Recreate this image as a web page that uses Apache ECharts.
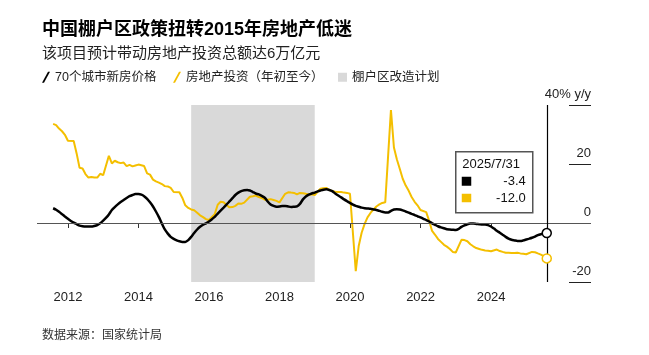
<!DOCTYPE html>
<html>
<head>
<meta charset="utf-8">
<script src="https://cdn.jsdelivr.net/npm/echarts@6/dist/echarts.min.js"></script>
<style>
html,body{margin:0;padding:0;background:#fff;}
#c{width:649px;height:355px;}
</style>
</head>
<body>
<div id="c"></div>
<script>
// ---- data (monthly, Jul 2011 – Jul 2025) ----
const startYear = 2011, startMonth = 7, endYear = 2025, endMonth = 7;
const months = [];
for (let y = startYear, m = startMonth; y < endYear || (y === endYear && m <= endMonth); ) {
  months.push(Date.UTC(y, m, 0)); // last day of month m
  m++; if (m > 12) { m = 1; y++; }
}
// 70个城市新房价格 同比 (%)
const priceYoY = [
  5.0, 4.5, 3.8, 3.0, 2.2, 1.4,
  0.7, 0.1, -0.4, -0.9, -1.1, -1.2, -1.2, -1.2, -1.0, -0.7, -0.1, 0.8,
  1.8, 2.9, 4.4, 5.4, 6.3, 7.1, 7.8, 8.5, 9.1, 9.5, 9.8, 9.8,
  9.6, 9.1, 8.2, 7.0, 5.6, 3.9, 2.0, -0.2, -2.2, -3.6, -4.7, -5.4,
  -5.9, -6.2, -6.4, -6.4, -5.8, -4.7, -3.4, -2.2, -1.3, -0.6, -0.1, 0.5,
  1.3, 2.1, 3.2, 4.2, 5.2, 6.2, 7.3, 8.4, 9.5, 10.3, 10.8, 11.1,
  11.2, 11.0, 10.5, 10.0, 9.7, 9.2, 8.6, 7.3, 6.3, 5.8, 5.5, 5.6,
  5.8, 5.8, 5.6, 5.4, 5.5, 5.6, 6.5, 8.0, 9.0, 9.6, 10.0, 10.3,
  10.7, 11.0, 11.3, 11.4, 11.2, 10.8, 10.0, 9.3, 8.7, 8.0, 7.4, 6.8,
  6.2, 5.8, 5.5, 5.2, 5.0, 4.9, 4.8, 4.6, 4.4, 4.1, 3.8, 3.6,
  3.6, 4.1, 4.6, 4.7, 4.6, 4.3, 3.9, 3.5, 3.1, 2.7, 2.3, 1.9,
  1.4, 1.0, 0.5, -0.1, -0.6, -1.1, -1.5, -1.8, -2.1, -2.2, -2.3, -2.4,
  -2.0, -1.3, -0.8, -0.4, -0.2, -0.2, -0.3, -0.4, -0.5, -0.5, -0.7, -1.2,
  -1.9, -2.6, -3.3, -4.0, -4.7, -5.3, -5.7, -5.9, -6.1, -6.1, -5.9, -5.6,
  -5.3, -5.0, -4.6, -4.1, -3.8, -3.6, -3.4
];
// 房地产投资（年初至今）同比 (%), January not published
const investYoY = [
  33.6, 33.2, 32.0, 31.1, 29.9, 27.9,
  null, 27.8, 23.5, 18.7, 18.5, 16.6, 15.4, 15.6, 15.4, 15.4, 16.7, 16.2,
  null, 22.8, 20.2, 21.1, 20.6, 20.3, 20.5, 19.3, 19.7, 19.2, 19.5, 19.8,
  null, 19.3, 16.8, 16.4, 14.7, 14.1, 13.7, 13.2, 12.5, 12.4, 11.9, 10.5,
  null, 10.4, 8.5, 6.0, 5.1, 4.6, 4.3, 3.5, 2.6, 2.0, 1.3, 1.0,
  null, 3.0, 6.2, 7.2, 7.0, 6.1, 5.3, 5.4, 5.8, 6.6, 6.5, 6.9,
  null, 8.9, 9.1, 9.3, 8.8, 8.5, 7.9, 7.9, 8.1, 7.8, 7.5, 7.0,
  null, 9.9, 10.4, 10.3, 10.2, 9.7, 10.2, 10.1, 9.9, 9.7, 9.7, 9.5,
  null, 11.6, 11.8, 11.9, 11.2, 10.9, 10.6, 10.5, 10.5, 10.3, 10.2, 9.9,
  null, -16.3, -7.7, -3.3, -0.3, 1.9, 3.4, 4.6, 5.6, 6.3, 6.8, 7.0,
  null, 38.3, 25.6, 21.6, 18.3, 15.0, 12.7, 10.9, 8.8, 7.2, 6.0, 4.4,
  null, 3.7, 0.7, -2.7, -4.0, -5.4, -6.4, -7.4, -8.0, -8.8, -9.8, -10.0,
  null, -5.7, -5.8, -6.2, -7.2, -7.9, -8.5, -8.8, -9.1, -9.3, -9.4, -9.6,
  null, -9.0, -9.5, -9.8, -10.1, -10.1, -10.2, -10.2, -10.1, -10.3, -10.4, -10.6,
  null, -9.8, -9.9, -10.3, -10.7, -11.2, -12.0
];
const shadeRange = [Date.UTC(2015, 5, 30), Date.UTC(2018, 11, 31)];
const xTickYears = [2012, 2014, 2016, 2018, 2020, 2022, 2024];
const xRange = [Date.UTC(2011, 1, 14), Date.UTC(2026, 10, 1)];

const nameA = '70个城市新房价格';
const nameB = '房地产投资（年初至今）';
const nameC = '棚户区改造计划';
const BLACK = '#000000', YELLOW = '#f4bf00', GREY = '#d9d9d9';
const FONT = '"Liberation Sans", "Noto Sans CJK SC", sans-serif';

// date -> decimal year (axis position)
function yr(ts) {
  const y = new Date(ts).getUTCFullYear();
  const s = Date.UTC(y, 0, 1), e = Date.UTC(y + 1, 0, 1);
  return y + (ts - s) / (e - s);
}

const lastT = months[months.length - 1];
const lastA = priceYoY[priceYoY.length - 1];
const lastB = investYoY[investYoY.length - 1];
const ld = new Date(lastT);
const lastLabel = ld.getUTCFullYear() + '/' + (ld.getUTCMonth() + 1) + '/' + ld.getUTCDate();

const chart = echarts.init(document.getElementById('c'), null, {renderer: 'canvas'});
const slash = 'path://M0,11 L2,11 L8,0 L6,0 Z';
const legendText = {fontSize: 12.5, color: '#222', fontFamily: FONT};

chart.setOption({
  backgroundColor: '#fff',
  animation: false,
  textStyle: {fontFamily: FONT},
  title: [
    {text: '中国棚户区政策扭转2015年房地产低迷', left: 37, top: 16,
     textStyle: {fontSize: 18, fontWeight: 'bold', color: '#000', fontFamily: FONT}},
    {text: '该项目预计带动房地产投资总额达6万亿元', left: 37, top: 41,
     textStyle: {fontSize: 15, fontWeight: 'normal', color: '#222', fontFamily: FONT}},
    {text: '数据来源：国家统计局', left: 37, top: 325,
     textStyle: {fontSize: 12, fontWeight: 'normal', color: '#333', fontFamily: FONT}}
  ],
  legend: [
    {left: 37, top: 66, data: [{name: nameA, icon: slash}], itemWidth: 8, itemHeight: 11,
     textStyle: legendText, selectedMode: false},
    {left: 168, top: 66, data: [{name: nameB, icon: slash}], itemWidth: 8, itemHeight: 11,
     textStyle: legendText, selectedMode: false},
    {left: 333, top: 66, data: [{name: nameC, icon: 'rect'}], itemWidth: 9, itemHeight: 9,
     textStyle: legendText, selectedMode: false}
  ],
  grid: {left: 37, right: 58, top: 105, bottom: 73},
  xAxis: {
    type: 'value',
    min: yr(xRange[0]),
    max: yr(xRange[1]),
    axisLine: {show: false},
    splitLine: {show: false},
    axisTick: {show: true, length: 5, lineStyle: {color: '#333', width: 1},
               customValues: xTickYears},
    axisLabel: {fontSize: 13, color: '#222', margin: 9, fontFamily: FONT,
                customValues: xTickYears,
                formatter: v => String(Math.round(v))}
  },
  yAxis: {
    type: 'value',
    position: 'right',
    min: -20, max: 40, interval: 20,
    splitLine: {show: false},
    axisLine: {show: false},
    axisTick: {show: true, inside: true, length: 22, lineStyle: {color: '#222', width: 1}},
    axisLabel: {inside: true, margin: 0, fontSize: 13, color: '#222', fontFamily: FONT,
                verticalAlign: 'bottom', padding: [0, 0, 4, 0],
                formatter: v => v === 40 ? '40% y/y' : String(v)}
  },
  series: [
    {
      name: nameC, type: 'line', data: [], color: GREY, z: 1, silent: true,
      markArea: {silent: true, itemStyle: {color: GREY},
                 data: [[{xAxis: yr(shadeRange[0])}, {xAxis: yr(shadeRange[1])}]]},
      markLine: {silent: true, symbol: 'none', label: {show: false},
                 data: [
                   {yAxis: 0, lineStyle: {color: '#555', width: 1, type: 'solid'}},
                   {xAxis: yr(lastT), lineStyle: {color: '#000', width: 1.2, type: 'solid'}}
                 ]}
    },
    {
      name: nameB, type: 'line', color: YELLOW, z: 3,
      data: months.map((t, i) => [yr(t), investYoY[i]]),
      connectNulls: true, showSymbol: false,
      lineStyle: {color: YELLOW, width: 2},
      markPoint: {symbol: 'circle', symbolSize: 9, silent: true, label: {show: false},
                  itemStyle: {color: '#fff', borderColor: YELLOW, borderWidth: 1.5},
                  data: [{coord: [yr(lastT), lastB]}]}
    },
    {
      name: nameA, type: 'line', color: BLACK, z: 4,
      data: months.map((t, i) => [yr(t), priceYoY[i]]),
      showSymbol: false, smooth: 0.2,
      lineStyle: {color: BLACK, width: 2.5},
      markPoint: {symbol: 'circle', symbolSize: 9, silent: true, label: {show: false},
                  itemStyle: {color: '#fff', borderColor: BLACK, borderWidth: 1.5},
                  data: [{coord: [yr(lastT), lastA]}]}
    }
  ],
  graphic: [
    {type: 'group', left: 455, top: 151, z: 100, children: [
      {type: 'rect', shape: {x: 0, y: 0, width: 77, height: 61},
       style: {fill: '#fff', stroke: '#555', lineWidth: 1.5}},
      {type: 'text', x: 6.5, y: 12.5, style: {text: lastLabel, fontSize: 13, fill: '#111',
       fontFamily: FONT, verticalAlign: 'middle'}},
      {type: 'rect', shape: {x: 6, y: 25, width: 9.5, height: 9}, style: {fill: BLACK}},
      {type: 'text', x: 70, y: 29.5, style: {text: lastA.toFixed(1), fontSize: 13, fill: '#111',
       fontFamily: FONT, align: 'right', verticalAlign: 'middle'}},
      {type: 'rect', shape: {x: 6, y: 42, width: 9.5, height: 8.5}, style: {fill: YELLOW}},
      {type: 'text', x: 70, y: 46.5, style: {text: lastB.toFixed(1), fontSize: 13, fill: '#111',
       fontFamily: FONT, align: 'right', verticalAlign: 'middle'}}
    ]}
  ]
});
</script>
</body>
</html>
